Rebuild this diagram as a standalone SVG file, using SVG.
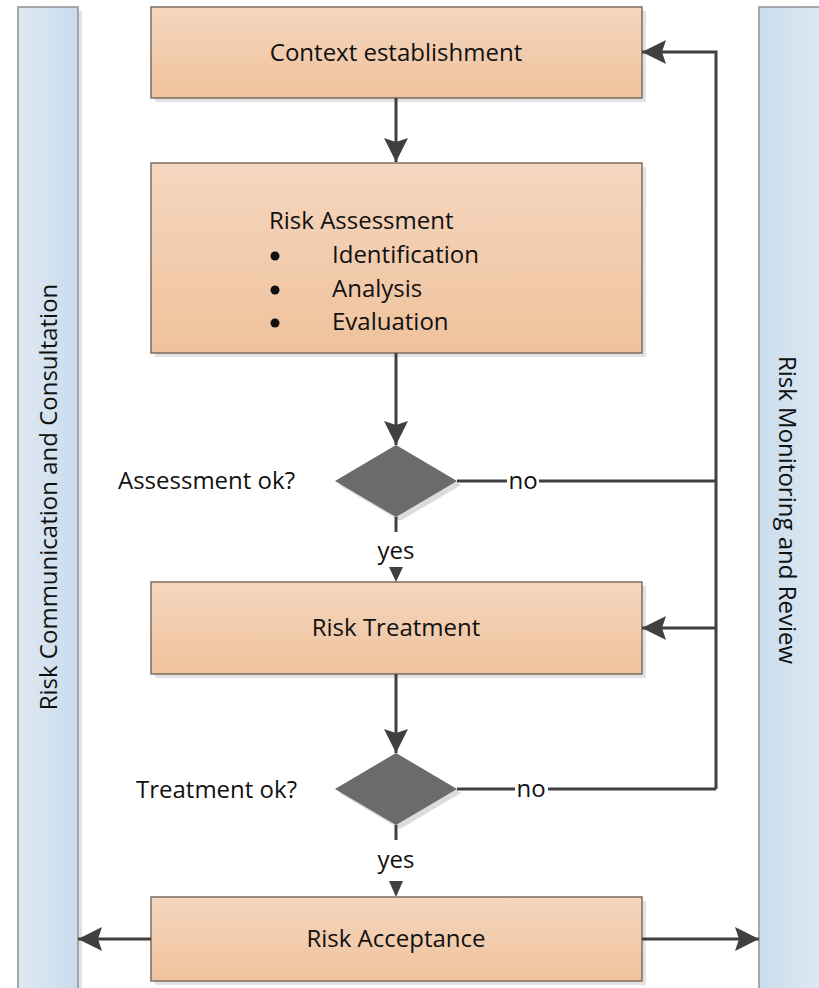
<svg xmlns="http://www.w3.org/2000/svg" width="819" height="988" viewBox="0 0 819 988">
  <defs>
    <linearGradient id="boxFill" x1="0" y1="0" x2="0" y2="1">
      <stop offset="0" stop-color="#f5d6bf"/>
      <stop offset="1" stop-color="#efc29c"/>
    </linearGradient>
    <linearGradient id="barFillL" x1="0" y1="0" x2="1" y2="0">
      <stop offset="0" stop-color="#dfe9f3"/>
      <stop offset="1" stop-color="#c9dcec"/>
    </linearGradient>
    <linearGradient id="barFillR" x1="0" y1="0" x2="1" y2="0">
      <stop offset="0" stop-color="#c9dcec"/>
      <stop offset="1" stop-color="#dfe9f3"/>
    </linearGradient>
    <marker id="arrow" viewBox="0 0 24 24" refX="24" refY="12" markerWidth="24" markerHeight="24" markerUnits="userSpaceOnUse" orient="auto">
      <path d="M0,0 L24,12 L0,24 L4,12 z" fill="#404040"/>
    </marker>
    <style>
      .box { fill: url(#boxFill); stroke: #7b6d62; stroke-width: 1.5; }
      .shadow { fill: #e2e2e2; }
      .bar { stroke: #8c9399; stroke-width: 1.5; }
      .diamond { fill: #6b6b6b; }
      .line { fill: none; stroke: #404040; stroke-width: 3; }
      .head { fill: #404040; }
      .dot { fill: #111111; }
      text { font-family: "Open Sans", "Liberation Sans", sans-serif; font-size: 24px; fill: #111111; }
      .mid { text-anchor: middle; }
      .end { text-anchor: end; }
    </style>
  </defs>

  <rect width="819" height="988" fill="#ffffff"/>

  <!-- side bars -->
  <g id="communication">
    <rect class="shadow" x="22" y="11" width="60" height="985"/>
    <rect class="bar" x="18" y="7" width="60" height="990" fill="url(#barFillL)"/>
    <text class="mid" transform="translate(57,497) rotate(-90)">Risk Communication and Consultation</text>
  </g>
  <g id="monitoring">
    <rect class="bar" x="759" y="7" width="64" height="990" fill="url(#barFillR)"/>
    <text class="mid" transform="translate(779,510) rotate(90)">Risk Monitoring and Review</text>
  </g>

  <!-- process boxes -->
  <g id="context">
    <rect class="shadow" x="155" y="11" width="491" height="91"/>
    <rect class="box" x="151" y="7" width="491" height="91"/>
    <text class="mid" x="396" y="61">Context establishment</text>
  </g>
  <g id="assessment">
    <rect class="shadow" x="155" y="167" width="491" height="190"/>
    <rect class="box" x="151" y="163" width="491" height="190"/>
    <text x="269" y="229">Risk Assessment</text>
    <circle class="dot" cx="275" cy="256" r="4.5"/>
    <text x="332" y="263">Identification</text>
    <circle class="dot" cx="275" cy="290" r="4.5"/>
    <text x="332" y="297">Analysis</text>
    <circle class="dot" cx="275" cy="323" r="4.5"/>
    <text x="332" y="330">Evaluation</text>
  </g>
  <g id="assessment-ok">
    <polygon points="400,449 461,485 400,521 339,485" fill="#dcdcdc"/>
    <polygon class="diamond" points="396,445 457,481 396,517 335,481"/>
    <text class="end" x="295" y="489">Assessment ok?</text>
  </g>
  <g id="treatment">
    <rect class="shadow" x="155" y="586" width="491" height="92"/>
    <rect class="box" x="151" y="582" width="491" height="92"/>
    <text class="mid" x="396" y="636">Risk Treatment</text>
  </g>
  <g id="treatment-ok">
    <polygon points="400,757 461,793 400,829 339,793" fill="#dcdcdc"/>
    <polygon class="diamond" points="396,753 457,789 396,825 335,789"/>
    <text class="end" x="297" y="798">Treatment ok?</text>
  </g>
  <g id="acceptance">
    <rect class="shadow" x="155" y="901" width="491" height="84"/>
    <rect class="box" x="151" y="897" width="491" height="84"/>
    <text class="mid" x="396" y="947">Risk Acceptance</text>
  </g>

  <!-- connectors -->
  <g id="connectors">
    <path class="line" d="M396,98 V162" marker-end="url(#arrow)"/>
    <path class="line" d="M396,353 V445" marker-end="url(#arrow)"/>

    <!-- assessment ok? -->
    <path class="line" d="M396,517 V532"/>
    <text class="mid" x="396" y="559">yes</text>
    <polygon class="head" points="389,567 403,567 396,582"/>
    <path class="line" d="M457,481 H507 M539,481 H716"/>
    <text class="mid" x="523" y="489">no</text>

    <!-- shared return line on the right -->
    <path class="line" d="M716,789 V52 H642" marker-end="url(#arrow)"/>
    <path class="line" d="M716,628 H642" marker-end="url(#arrow)"/>

    <path class="line" d="M396,674 V753" marker-end="url(#arrow)"/>

    <!-- treatment ok? -->
    <path class="line" d="M396,825 V840"/>
    <text class="mid" x="396" y="868">yes</text>
    <polygon class="head" points="389,881 403,881 396,897"/>
    <path class="line" d="M457,789 H515 M548,789 H716"/>
    <text class="mid" x="531" y="797">no</text>

    <!-- acceptance out to both bars -->
    <path class="line" d="M151,939 H78" marker-end="url(#arrow)"/>
    <path class="line" d="M642,939 H759" marker-end="url(#arrow)"/>
  </g>
</svg>
